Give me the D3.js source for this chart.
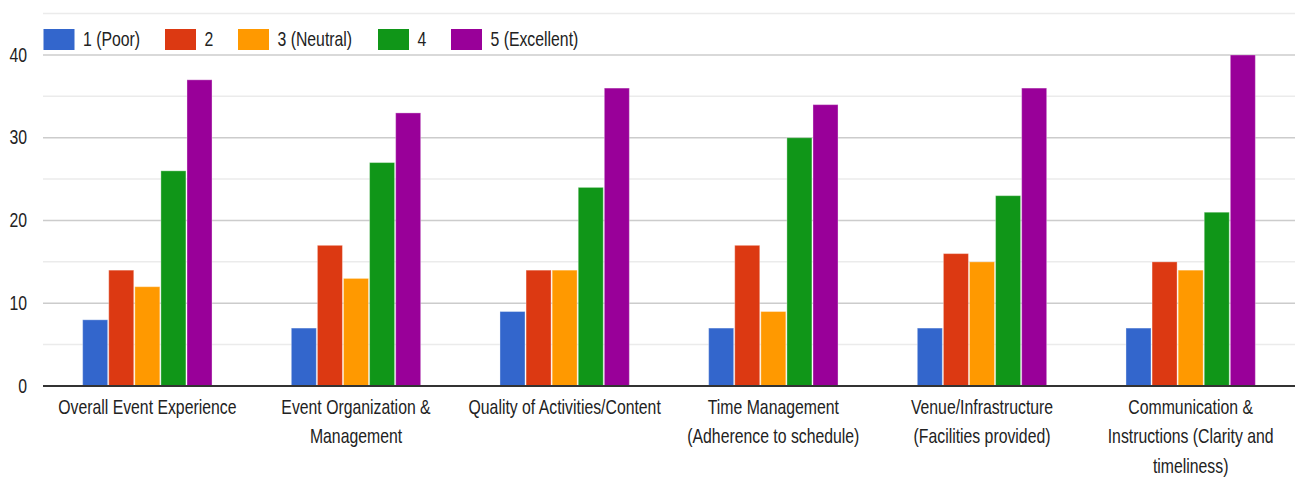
<!DOCTYPE html>
<html lang="en">
<head>
<meta charset="UTF-8">
<title>Event Feedback Ratings</title>
<script src="https://d3js.org/d3.v7.min.js"></script>
<style>
    html, body { margin: 0; padding: 0; background: #fff; overflow: hidden; }
    svg { display: block; font-family: "Liberation Sans", Arial, sans-serif; }
    .grid-major { stroke: #cccccc; stroke-width: 1.5px; }
    .grid-minor { stroke: #ebebeb; stroke-width: 1.5px; }
    .baseline { stroke: #333; stroke-width: 2px; }
    .bar { stroke: rgba(255,255,255,0.35); stroke-width: 1px; }
    .lbl { fill: #222; font-size: 20px; }
</style>
</head>
<body>
<svg id="chart"></svg>
<script>
    // --- data ---
    const categories = [
        ["Overall Event Experience"],
        ["Event Organization &", "Management"],
        ["Quality of Activities/Content"],
        ["Time Management", "(Adherence to schedule)"],
        ["Venue/Infrastructure", "(Facilities provided)"],
        ["Communication &", "Instructions (Clarity and", "timeliness)"]
    ];
    const seriesNames = ["1 (Poor)", "2", "3 (Neutral)", "4", "5 (Excellent)"];
    const poor      = [8, 7, 9, 7, 7, 7];
    const two       = [14, 17, 14, 17, 16, 15];
    const neutral   = [12, 13, 14, 9, 15, 14];
    const four      = [26, 27, 24, 30, 23, 21];
    const excellent = [37, 33, 36, 34, 36, 40];
    const yTicks = [0, 10, 20, 30, 40];
    const yMinor = [5, 15, 25, 35, 45];

    const series = [poor, two, neutral, four, excellent];
    const colors = ["#3366cc", "#dc3912", "#ff9900", "#109618", "#990099"];

    // --- layout ---
    const W = 1295, H = 477;
    const plotLeft = 43, plotRight = 1295, plotTop = 13.6, plotBottom = 386;
    const sx = 0.79; // horizontal squeeze of the label font

    const svg = d3.select("#chart").attr("width", W).attr("height", H);

    const catIdx = d3.range(categories.length);
    const x0 = d3.scaleBand().domain(catIdx).range([plotLeft, plotRight])
        .paddingInner(0.38).paddingOuter(0.19);
    const x1 = d3.scaleBand().domain(d3.range(series.length))
        .range([0, x0.bandwidth()]).paddingInner(0.04);
    const y = d3.scaleLinear().domain([0, 45]).range([plotBottom, plotTop]);

    // squeezed text helper
    function label(g, txt, x, yy, anchor) {
        g.append("text")
            .attr("class", "lbl")
            .attr("transform", `translate(${x},${yy}) scale(${sx},1)`)
            .attr("text-anchor", anchor)
            .attr("dominant-baseline", "central")
            .text(txt);
    }

    // gridlines
    svg.append("g").selectAll("line").data(yMinor).join("line")
        .attr("class", "grid-minor")
        .attr("x1", plotLeft).attr("x2", W)
        .attr("y1", d => y(d)).attr("y2", d => y(d));
    svg.append("g").selectAll("line").data(yTicks.filter(d => d > 0)).join("line")
        .attr("class", "grid-major")
        .attr("x1", plotLeft).attr("x2", W)
        .attr("y1", d => y(d)).attr("y2", d => y(d));

    // y labels
    const yl = svg.append("g");
    yTicks.forEach(t => label(yl, t, 27, y(t), "end"));

    // bars
    const groups = svg.append("g").selectAll("g").data(catIdx).join("g")
        .attr("transform", i => `translate(${x0(i)},0)`);
    groups.selectAll("rect")
        .data(i => series.map((s, k) => ({ k, v: s[i] })))
        .join("rect")
        .attr("class", "bar")
        .attr("x", d => x1(d.k))
        .attr("width", x1.bandwidth())
        .attr("y", d => y(d.v))
        .attr("height", d => y(0) - y(d.v))
        .attr("fill", d => colors[d.k]);

    // baseline
    svg.append("line").attr("class", "baseline")
        .attr("x1", plotLeft).attr("x2", W)
        .attr("y1", y(0)).attr("y2", y(0));

    // x labels
    const xl = svg.append("g");
    categories.forEach((lines, i) => {
        const cx = x0(i) + x0.bandwidth() / 2;
        lines.forEach((ln, j) => label(xl, ln, cx, 407 + j * 29.5, "middle"));
    });

    // legend
    const legendX = [43.5, 165, 238, 378, 451];
    const lg = svg.append("g");
    seriesNames.forEach((name, k) => {
        lg.append("rect")
            .attr("x", legendX[k]).attr("y", 29)
            .attr("width", 31).attr("height", 21)
            .attr("fill", colors[k]);
        label(lg, name, legendX[k] + 39.5, 39.5, "start");
    });
</script>
</body>
</html>
